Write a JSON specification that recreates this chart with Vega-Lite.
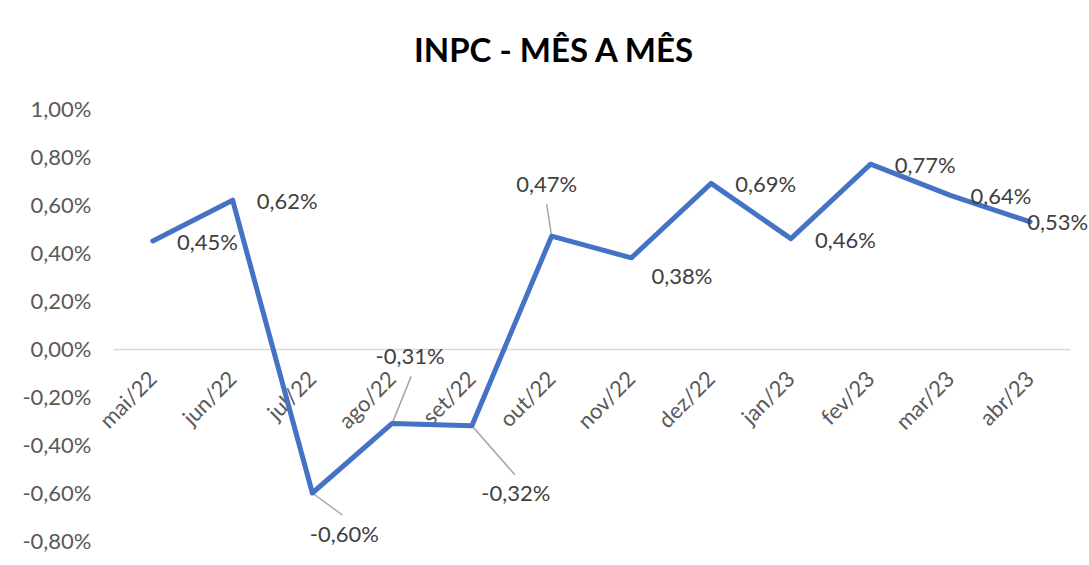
{
  "$schema": "https://vega.github.io/schema/vega-lite/v6.json",
  "width": 957,
  "height": 432,
  "autosize": {"type": "none"},
  "padding": {"left": 113, "top": 109, "right": 19, "bottom": 24},
  "background": "white",
  "config": {
    "view": {"stroke": null},
    "locale": {"number": {"decimal": ",", "thousands": ".", "grouping": [3], "currency": ["R$", ""], "minus": "-"}},
    "text": {"font": "Lato", "fontSize": 22, "color": "#404040"}
  },
  "title": {
    "text": "INPC - MÊS A MÊS",
    "font": "Lato",
    "fontSize": 33,
    "fontWeight": "bold",
    "color": "#000000",
    "frame": "group",
    "anchor": "middle",
    "dx": -38,
    "baseline": "alphabetic",
    "offset": 3
  },
  "data": {
    "values": [
      {"mes": "mai/22", "inpc": 0.0045},
      {"mes": "jun/22", "inpc": 0.0062},
      {"mes": "jul/22", "inpc": -0.0060},
      {"mes": "ago/22", "inpc": -0.0031},
      {"mes": "set/22", "inpc": -0.0032},
      {"mes": "out/22", "inpc": 0.0047},
      {"mes": "nov/22", "inpc": 0.0038},
      {"mes": "dez/22", "inpc": 0.0069},
      {"mes": "jan/23", "inpc": 0.0046},
      {"mes": "fev/23", "inpc": 0.0077},
      {"mes": "mar/23", "inpc": 0.0064},
      {"mes": "abr/23", "inpc": 0.0053}
    ]
  },
  "encoding": {
    "x": {
      "field": "mes", "type": "ordinal", "sort": null,
      "scale": {"type": "point", "padding": 0.5, "domain": ["mai/22", "jun/22", "jul/22", "ago/22", "set/22", "out/22", "nov/22", "dez/22", "jan/23", "fev/23", "mar/23", "abr/23"]},
      "axis": {
        "title": null, "offset": -192, "ticks": false, "grid": false,
        "domainColor": "#d9d9d9", "domainWidth": 1.5,
        "labelAngle": -45, "labelAlign": "right", "labelBaseline": "middle",
        "labelPadding": 26, "labelFont": "Lato", "labelFontSize": 22, "labelColor": "#595959"
      }
    },
    "y": {
      "field": "inpc", "type": "quantitative",
      "scale": {"domain": [-0.008, 0.01], "nice": false, "zero": false},
      "axis": {
        "title": null, "format": ".2%", "values": [-0.008, -0.006, -0.004, -0.002, 0, 0.002, 0.004, 0.006, 0.008, 0.01],
        "domain": false, "ticks": false, "grid": false,
        "labelPadding": 22, "labelFont": "Lato", "labelFontSize": 22, "labelColor": "#595959"
      }
    }
  },
  "layer": [
    {
      "transform": [{"filter": "indexof(['jul/22','ago/22','set/22','out/22'], datum.mes) >= 0"}],
      "layer": [
        {"transform": [{"filter": "datum.mes == 'jul/22'"}], "mark": {"type": "rule", "color": "#a6a6a6", "strokeWidth": 1.5, "x2Offset": 30, "y2Offset": 22}, "encoding": {"x2": {"field": "mes"}, "y2": {"field": "inpc"}}},
        {"transform": [{"filter": "datum.mes == 'ago/22'"}], "mark": {"type": "rule", "color": "#a6a6a6", "strokeWidth": 1.5, "x2Offset": 19, "y2Offset": -47}, "encoding": {"x2": {"field": "mes"}, "y2": {"field": "inpc"}}},
        {"transform": [{"filter": "datum.mes == 'set/22'"}], "mark": {"type": "rule", "color": "#a6a6a6", "strokeWidth": 1.5, "x2Offset": 43, "y2Offset": 49}, "encoding": {"x2": {"field": "mes"}, "y2": {"field": "inpc"}}},
        {"transform": [{"filter": "datum.mes == 'out/22'"}], "mark": {"type": "rule", "color": "#a6a6a6", "strokeWidth": 1.5, "x2Offset": -5, "y2Offset": -32}, "encoding": {"x2": {"field": "mes"}, "y2": {"field": "inpc"}}}
      ]
    },
    {
      "mark": {"type": "line", "color": "#4472C4", "strokeWidth": 5, "strokeJoin": "round", "strokeCap": "round"}
    },
    {
      "transform": [{"filter": "indexof(['mai/22','jun/22','dez/22','jan/23','fev/23'], datum.mes) >= 0"}],
      "mark": {"type": "text", "align": "left", "baseline": "middle", "dx": 24, "dy": 2},
      "encoding": {"text": {"field": "inpc", "type": "quantitative", "format": ".2%"}}
    },
    {
      "transform": [{"filter": "datum.mes == 'mar/23'"}],
      "mark": {"type": "text", "align": "left", "baseline": "middle", "dx": 20, "dy": 2},
      "encoding": {"text": {"field": "inpc", "type": "quantitative", "format": ".2%"}}
    },
    {
      "transform": [{"filter": "datum.mes == 'abr/23'"}],
      "mark": {"type": "text", "align": "left", "baseline": "middle", "dx": -3, "dy": 1},
      "encoding": {"text": {"field": "inpc", "type": "quantitative", "format": ".2%"}}
    },
    {
      "transform": [{"filter": "datum.mes == 'nov/22'"}],
      "mark": {"type": "text", "align": "left", "baseline": "middle", "dx": 20, "dy": 19},
      "encoding": {"text": {"field": "inpc", "type": "quantitative", "format": ".2%"}}
    },
    {
      "transform": [{"filter": "datum.mes == 'jul/22'"}],
      "mark": {"type": "text", "align": "center", "baseline": "middle", "dx": 32, "dy": 42},
      "encoding": {"text": {"field": "inpc", "type": "quantitative", "format": ".2%"}}
    },
    {
      "transform": [{"filter": "datum.mes == 'ago/22'"}],
      "mark": {"type": "text", "align": "center", "baseline": "middle", "dx": 18, "dy": -66},
      "encoding": {"text": {"field": "inpc", "type": "quantitative", "format": ".2%"}}
    },
    {
      "transform": [{"filter": "datum.mes == 'set/22'"}],
      "mark": {"type": "text", "align": "center", "baseline": "middle", "dx": 44, "dy": 68},
      "encoding": {"text": {"field": "inpc", "type": "quantitative", "format": ".2%"}}
    },
    {
      "transform": [{"filter": "datum.mes == 'out/22'"}],
      "mark": {"type": "text", "align": "center", "baseline": "middle", "dx": -5, "dy": -51},
      "encoding": {"text": {"field": "inpc", "type": "quantitative", "format": ".2%"}}
    }
  ]
}
